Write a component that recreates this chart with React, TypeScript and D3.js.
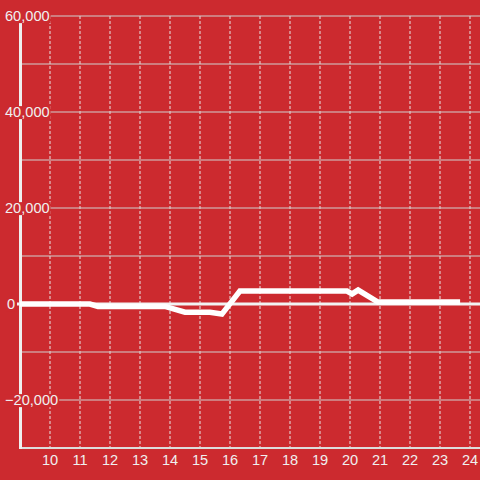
import React, { useEffect, useRef } from "react";
import * as d3 from "d3";

const hours = [9, 11.33, 11.6, 13.83, 14.5, 15.33, 15.73, 16.33, 19.9, 20.07, 20.27, 20.93, 23.67];
const values = [0, 0, -500, -500, -1700, -1700, -2100, 2700, 2700, 2100, 2900, 400, 400];
const xTicks = [10, 11, 12, 13, 14, 15, 16, 17, 18, 19, 20, 21, 22, 23, 24];
const yGrid = [-30000, -20000, -10000, 0, 10000, 20000, 30000, 40000, 50000, 60000];
const yLabels = [-20000, 0, 20000, 40000, 60000];

const W = 480, H = 480;
const BG = "#cc2a2f";
const FONT = "'Liberation Sans', Arial, sans-serif";

export default function App() {
  const ref = useRef<SVGSVGElement>(null);
  useEffect(() => {
    const svg = d3.select(ref.current);
    svg.selectAll("*").remove();
    const x = d3.scaleLinear().domain([9, 24.333]).range([20, 480]);
    const y = d3.scaleLinear().domain([-30000, 60000]).range([448, 16]);

    svg.append("rect").attr("width", W).attr("height", H).attr("fill", BG);

    // vertical dashed grid
    svg.append("g").selectAll("line").data(xTicks).join("line")
      .attr("x1", d => x(d)).attr("x2", d => x(d))
      .attr("y1", y(60000)).attr("y2", y(-30000))
      .attr("stroke", "#e6e6e6").attr("stroke-width", 1)
      .attr("stroke-dasharray", "3,2");

    // horizontal grid
    svg.append("g").selectAll("line").data(yGrid.filter(d => d !== 0 && d !== -30000)).join("line")
      .attr("x1", 20).attr("x2", W)
      .attr("y1", d => y(d)).attr("y2", d => y(d))
      .attr("stroke", "#d0d0d0").attr("stroke-width", 1);

    // bottom axis line
    svg.append("line").attr("x1", 20).attr("x2", W).attr("y1", y(-30000)).attr("y2", y(-30000))
      .attr("stroke", "#dcdcdc").attr("stroke-width", 2);

    // left axis line
    svg.append("line").attr("x1", 20.5).attr("x2", 20.5).attr("y1", y(60000)).attr("y2", y(-30000) + 1)
      .attr("stroke", "#efefef").attr("stroke-width", 3);

    // zero line
    svg.append("line").attr("x1", 17).attr("x2", W).attr("y1", y(0)).attr("y2", y(0))
      .attr("stroke", "#f2f2f2").attr("stroke-width", 3);

    // y labels with background
    const fmt = d3.format(",");
    const lg = svg.append("g");
    yLabels.forEach(v => {
      const g = lg.append("g");
      const t = g.append("text")
        .attr("x", v === 0 ? 7 : 5).attr("y", y(v)).attr("dy", "0.35em")
        .attr("text-anchor", "start")
        .attr("font-family", FONT).attr("font-size", 14.6)
        .attr("fill", "#f0f0f0").text(fmt(v));
      const bb = (t.node() as SVGTextElement).getBBox();
      g.insert("rect", "text")
        .attr("x", bb.x - 1).attr("y", bb.y + 2).attr("width", bb.width + 2).attr("height", bb.height - 3)
        .attr("fill", BG);
    });

    // x labels
    svg.append("g").selectAll("text").data(xTicks).join("text")
      .attr("x", d => x(d)).attr("y", 460).attr("dy", "0.35em")
      .attr("text-anchor", "middle")
      .attr("font-family", FONT).attr("font-size", 14.6)
      .attr("fill", "#f0f0f0").text(d => String(d));

    // data line
    const line = d3.line<number>().x((d, i) => x(hours[i])).y(d => y(d));
    svg.append("path").attr("d", line(values) || "")
      .attr("fill", "none").attr("stroke", "#ffffff").attr("stroke-width", 5.5)
      .attr("stroke-linejoin", "miter");
  }, []);
  return (
    <svg ref={ref} width={W} height={H} style={{ position: "absolute", left: 0, top: 0 }} />
  );
}
